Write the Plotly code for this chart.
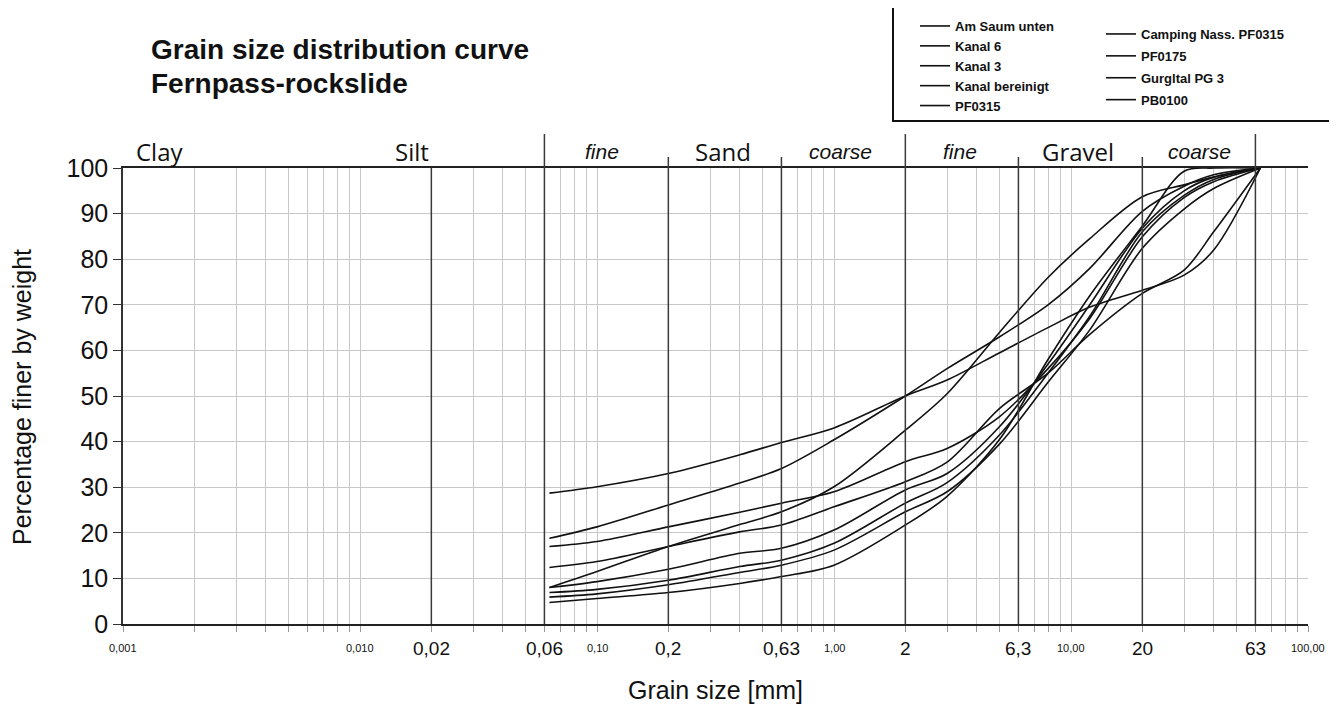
import math
import plotly.graph_objects as go

# ---------------- data ----------------
sizes = [0.063, 0.1, 0.2, 0.4, 0.6, 1, 2, 3, 5, 8, 12, 20, 30, 40, 63]

am_saum_unten   = [28.7, 30.1, 33.0, 37.1, 39.8, 43.0, 50.0, 53.5, 59.5, 65.0, 69.5, 73.2, 76.5, 82.0, 100]
kanal_6         = [18.8, 21.3, 26.1, 30.9, 34.1, 40.4, 50.0, 56.0, 63.0, 70.0, 78.0, 90.5, 96.0, 98.5, 100]
kanal_3         = [17.0, 18.1, 21.3, 24.5, 26.5, 29.0, 35.6, 38.5, 45.5, 56.0, 67.0, 84.9, 93.5, 97.0, 100]
kanal_bereinigt = [12.4, 13.7, 17.0, 20.2, 21.7, 25.7, 31.2, 35.5, 47.3, 55.0, 63.5, 72.5, 77.6, 86.0, 100]
pf0315          = [8.0, 11.5, 17.0, 21.8, 24.6, 30.1, 42.5, 50.5, 64.0, 76.0, 84.5, 93.7, 96.3, 98.0, 100]
camping_nass    = [8.0, 9.3, 12.0, 15.5, 16.6, 20.6, 29.4, 33.0, 43.3, 57.0, 70.0, 86.8, 95.0, 98.0, 100]
pf0175          = [6.9, 7.6, 9.6, 12.6, 14.0, 17.7, 26.5, 31.0, 41.5, 55.0, 67.5, 86.0, 94.0, 97.5, 100]
gurgltal_pg3    = [5.9, 6.6, 8.6, 11.3, 12.9, 16.2, 24.6, 29.0, 39.5, 53.0, 64.5, 82.4, 91.0, 95.5, 100]
pb0100          = [4.7, 5.6, 6.9, 8.9, 10.4, 12.9, 21.7, 28.0, 40.5, 58.0, 72.0, 87.3, 99.3, 100, 100]

left_names = ["Am Saum unten", "Kanal 6", "Kanal 3", "Kanal bereinigt", "PF0315"]
left_series = [am_saum_unten, kanal_6, kanal_3, kanal_bereinigt, pf0315]
right_names = ["Camping Nass. PF0315", "PF0175", "Gurgltal PG 3", "PB0100"]
right_series = [camping_nass, pf0175, gurgltal_pg3, pb0100]

# fraction boundaries drawn as dark lines
boundary_sizes = [0.02, 0.06, 0.2, 0.6, 2, 6, 20, 60]
boundary_tall = [0.06, 2, 60]          # extend high into header
boundary_short = [0.2, 0.6, 6, 20]     # extend slightly into header

big_tick_vals = [0.02, 0.06, 0.2, 0.6, 2, 6, 20, 60]
big_tick_text = ["0,02", "0,06", "0,2", "0,63", "2", "6,3", "20", "63"]
small_tick_vals = [0.001, 0.01, 0.1, 1, 10, 100]
small_tick_text = ["0,001", "0,010", "0,10", "1,00", "10,00", "100,00"]

header_text = ["Clay", "Silt", "fine", "Sand", "coarse", "fine", "Gravel", "coarse"]
header_pos = [0.00143, 0.0166, 0.105, 0.34, 1.07, 3.4, 10.7, 35.0]
header_italic = [False, False, True, False, True, True, False, True]

grid_vals = [m * 10 ** e for e in range(-3, 2) for m in range(1, 10)] + [100]

# ---------------- geometry ----------------
# the page body has an 8px margin, so the figure is shifted by (8, 8)
OFF = 8
W, H = 1337 - OFF, 704 - OFF
L, R, T, B = 123 - OFF, 29, 168 - OFF, 80
PX0, PY1 = 123, 624          # plot area on screen (left, bottom)
PW, PH = 1185, 456


def py(ypx):
    return (PY1 - ypx) / PH


def px(xpx):
    return (xpx - PX0) / PW


def cx(xpx):
    return (xpx - OFF) / W


def cy(ypx):
    return 1 - (ypx - OFF) / H


FONT = "Liberation Sans"
fig = go.Figure()

for names, series, lg in [(left_names, left_series, "legend"), (right_names, right_series, "legend2")]:
    for n, s in zip(names, series):
        fig.add_trace(go.Scatter(
            x=sizes, y=s, name=n, mode="lines", legend=lg, legendgroup=n,
            line=dict(color="#111111", width=1.6, shape="spline", smoothing=0.9),
            hoverinfo="name+x+y"))

shapes = []
for d in boundary_sizes:
    top = 1.0
    if d in boundary_tall:
        top = py(134)
    elif d in boundary_short:
        top = py(157)
    shapes.append(dict(type="line", xref="x", yref="paper", x0=d, x1=d,
                       y0=0, y1=top, line=dict(color="#3a3a3a", width=1.5), layer="above"))
# legend box
shapes.append(dict(type="rect", xref="paper", yref="paper", x0=px(893), x1=px(1331),
                   y0=py(121), y1=py(7), line=dict(color="#111111", width=2)))

ann = []
for v, t in zip(big_tick_vals, big_tick_text):
    ann.append(dict(x=math.log10(v), y=py(648), xref="x", yref="paper", text=t, showarrow=False,
                    font=dict(family=FONT, size=19, color="#111"), xanchor="center", yanchor="middle"))
for v, t in zip(small_tick_vals, small_tick_text):
    ann.append(dict(x=math.log10(v), y=py(648), xref="x", yref="paper", text=t, showarrow=False,
                    font=dict(family=FONT, size=11, color="#111"), xanchor="center", yanchor="middle"))
for t, v, it in zip(header_text, header_pos, header_italic):
    if it:
        f = dict(family=FONT, size=21, color="#111")
        txt = "<i>%s</i>" % t
    else:
        f = dict(family="Open Sans", size=24, color="#111")
        txt = t
    ann.append(dict(x=math.log10(v), y=py(151), xref="x", yref="paper", text=txt, showarrow=False,
                    font=f, xanchor="center", yanchor="middle"))

ann.append(dict(x=px(149), y=py(50), xref="paper", yref="paper", text="<b>Grain size distribution curve</b>",
                showarrow=False, xanchor="left", yanchor="middle", font=dict(family=FONT, size=28, color="#111")))
ann.append(dict(x=px(149), y=py(83), xref="paper", yref="paper", text="<b>Fernpass-rockslide</b>",
                showarrow=False, xanchor="left", yanchor="middle", font=dict(family=FONT, size=28, color="#111")))
ann.append(dict(x=px(715), y=py(690), xref="paper", yref="paper", text="Grain size [mm]",
                showarrow=False, xanchor="center", yanchor="middle", font=dict(family=FONT, size=25, color="#111")))
ann.append(dict(x=px(22), y=py(397), xref="paper", yref="paper", text="Percentage finer by weight",
                showarrow=False, xanchor="center", yanchor="middle", textangle=-90,
                font=dict(family=FONT, size=25, color="#111")))

legend_common = dict(xref="container", yref="container", xanchor="left", yanchor="top",
                     bgcolor="rgba(0,0,0,0)", borderwidth=0, itemwidth=30,
                     font=dict(family=FONT, size=13, color="#111", weight="bold"),
                     itemclick=False, itemdoubleclick=False)

fig.update_layout(
    width=W, height=H, margin=dict(l=L, r=R, t=T, b=B, autoexpand=False),
    paper_bgcolor="white", plot_bgcolor="white",
    showlegend=True,
    legend=dict(x=cx(915), y=cy(11), tracegroupgap=0, **legend_common),
    legend2=dict(x=cx(1101), y=cy(19), tracegroupgap=2, **legend_common),
    xaxis=dict(type="log", range=[-3, 2], tickvals=grid_vals, showticklabels=False,
               ticks="outside", ticklen=6, tickcolor="#999", showgrid=True, gridcolor="#c8c8c8",
               gridwidth=1, showline=True, linecolor="#222", linewidth=1.5, mirror=True, zeroline=False),
    yaxis=dict(range=[0, 100], tickvals=list(range(0, 101, 10)), ticks="outside", ticklen=8,
               tickcolor="#333", showgrid=True, gridcolor="#c8c8c8", gridwidth=1,
               showline=True, linecolor="#333", linewidth=1.5, zeroline=False,
               tickfont=dict(family=FONT, size=25, color="#111")),
    shapes=shapes, annotations=ann,
)

fig.write_html("out.html")
